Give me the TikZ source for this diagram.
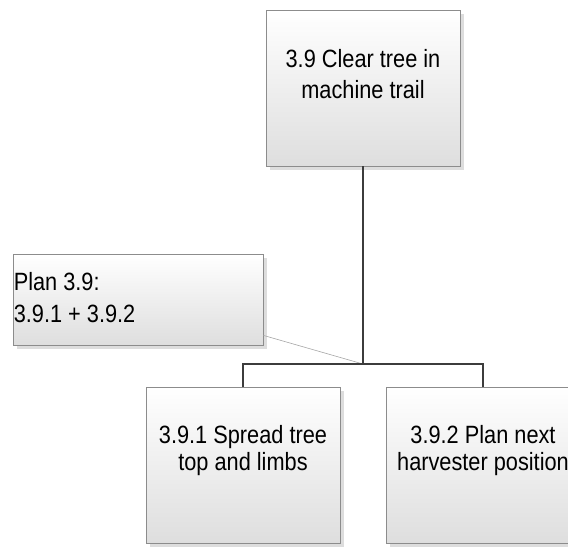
\documentclass[tikz,border=0pt]{standalone}
\usepackage{fontspec}
\setmainfont{Liberation Sans}
\newfontfamily\boxfont{Liberation Sans}[FakeStretch=0.87]
\usetikzlibrary{positioning, calc, shadows}

\begin{document}
\begin{tikzpicture}[
    x=1pt, y=-1pt,
    every node/.style={font=\boxfont},
    taskbox/.style={draw=boxedge, line width=0.8pt, top color=white,
        bottom color=boxfill, minimum width=194pt, minimum height=156pt,
        inner sep=0pt, drop shadow={shadow xshift=4pt, shadow yshift=-4pt,
        fill=black!22, opacity=0.6}},
    notebox/.style={taskbox, minimum width=250pt, minimum height=91pt},
    tasktext/.style={anchor=north, inner sep=0pt, align=center,
        font=\boxfont\fontsize{25}{31}\selectfont},
    notetext/.style={anchor=north west, inner sep=0pt, align=left,
        font=\boxfont\fontsize{25}{32}\selectfont},
    link/.style={line width=2.4pt, draw=linecolor},
    notelink/.style={line width=0.6pt, draw=gray!70},
]

\definecolor{boxedge}{HTML}{8C8C8C}
\definecolor{boxfill}{HTML}{DEDEDE}
\definecolor{linecolor}{HTML}{3C3C3C}

\useasboundingbox (0,0) rectangle (568,551);
\clip (0,0) rectangle (568,551);

% ---------------------------------------------------------------- boxes
\node[taskbox] (clear) at (363, 88) {};
\node[tasktext] (cleartext) at ($(clear.north)+(0,40)$)
    {3.9 Clear tree in\\machine trail};

\node[notebox] (plan) at (138, 299.5) {};
\node[notetext] (plantext) at ($(plan.north west)+(1,19)$)
    {Plan 3.9:\\3.9.1 + 3.9.2};

\node[taskbox] (spread) at (243, 465) {};
\node[tasktext, font=\boxfont\fontsize{25}{27}\selectfont] (spreadtext)
    at ($(spread.north)+(0,39)$) {3.9.1 Spread tree\\top and limbs};

\node[taskbox] (next) at (483, 465) {};
\node[tasktext, font=\boxfont\fontsize{25}{27}\selectfont] (nexttext)
    at ($(next.north)+(0,39)$) {3.9.2 Plan next\\harvester position};

% ---------------------------------------------------------------- links
\coordinate (fork) at (363, 364);
\coordinate (planend) at ($(plan.south east)+(0,-10)$);

\draw[notelink] (planend) -- (fork);
\draw[link] (clear.south) -- (fork);
\draw[link] (fork) -| (spread.north);
\draw[link] (fork) -| (next.north);

\end{tikzpicture}
\end{document}
